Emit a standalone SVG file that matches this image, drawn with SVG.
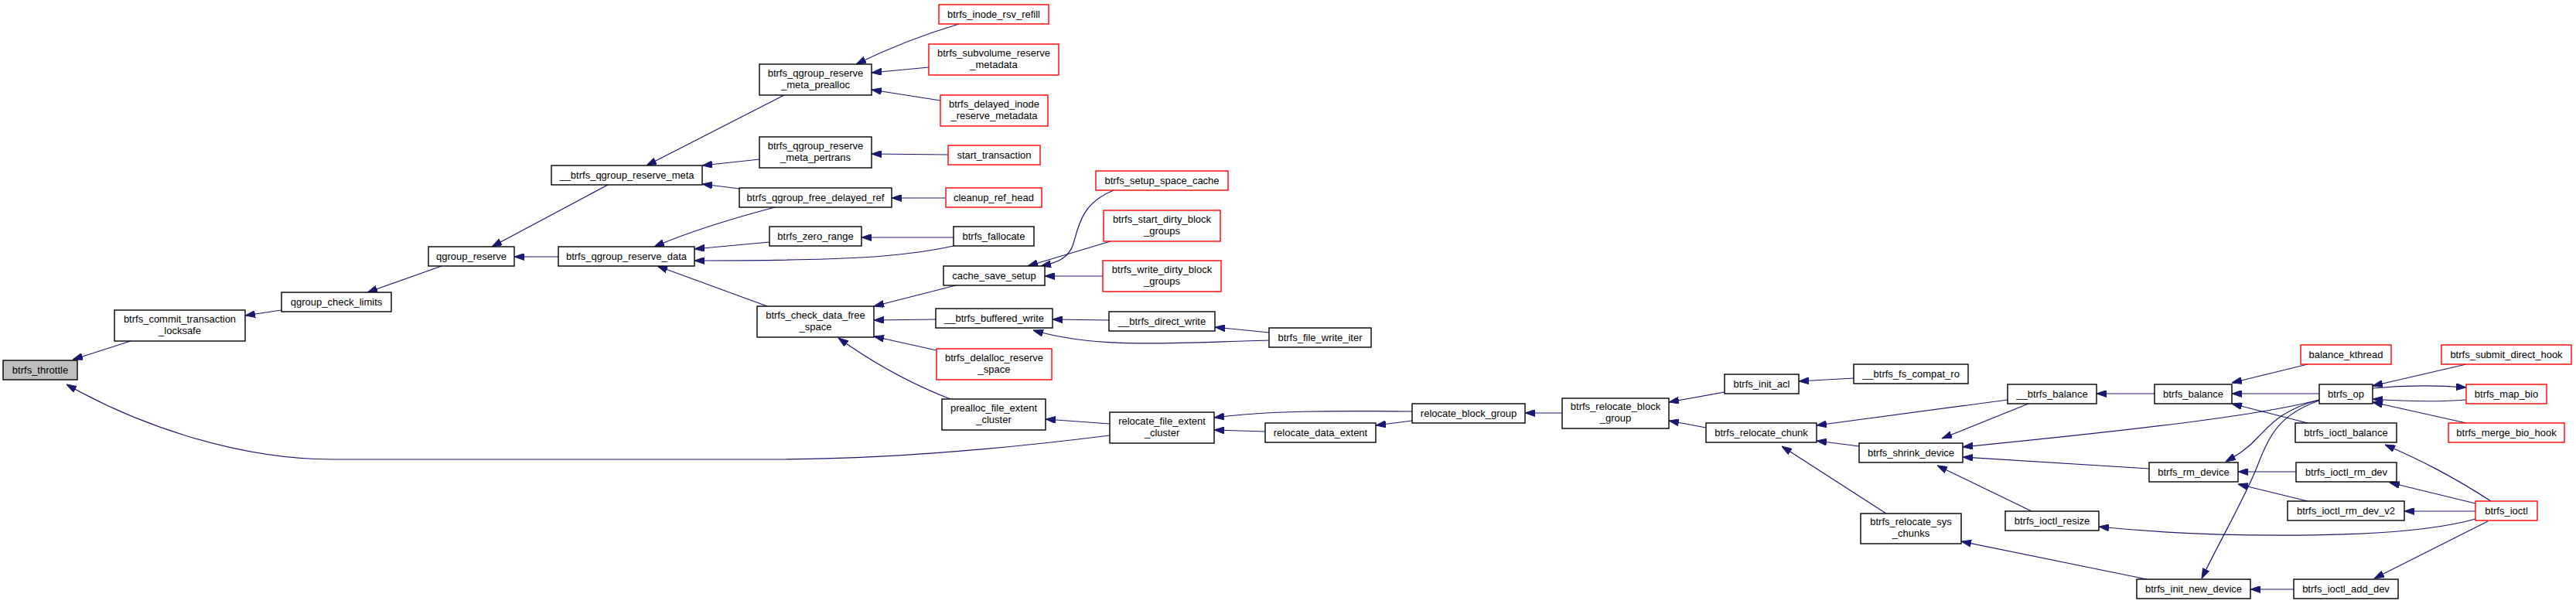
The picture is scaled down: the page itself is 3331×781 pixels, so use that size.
<svg xmlns="http://www.w3.org/2000/svg" width="3331" height="781" viewBox="0 0 3331 781">
<style>
.n rect{fill:#fff;stroke:#000;stroke-width:1.4}
.r rect{stroke:#ff0000}
.g rect{fill:#bfbfbf}
text{font-family:'Liberation Sans',Arial,Helvetica,sans-serif;font-size:13px;text-anchor:middle;fill:#000}
.e path{fill:none;stroke:#191970;stroke-width:1.2;marker-end:url(#a)}
</style>
<defs>
<marker id="a" markerUnits="userSpaceOnUse" viewBox="0 0 13 9" markerWidth="13" markerHeight="9" refX="13" refY="4.5" orient="auto">
<path d="M0,0 L13,4.5 L0,9 z" fill="#191970" stroke="#191970" stroke-width="1"/>
</marker>
</defs>
<rect width="3331" height="781" fill="#fff"/>
<g class="e" id="edges">
<path d="M169,441 L94,465"/>
<path d="M364,401 L317,408"/>
<path d="M571,344 L475,378"/>
<path d="M786,239 L636,319"/>
<path d="M722,332 L665,332"/>
<path d="M1014,123 L836,214"/>
<path d="M982,206 L908,214"/>
<path d="M956,244 L908,238"/>
<path d="M1002,268 C960,279 900,296 846,319"/>
<path d="M995,313 L898,322"/>
<path d="M1233,318 C1170,332 1100,337 898,337"/>
<path d="M995,397 L850,344"/>
<path d="M1240,31 Q1170,52 1107,83"/>
<path d="M1201,87 L1127,94"/>
<path d="M1216,130 L1127,116"/>
<path d="M1226,200 L1127,199"/>
<path d="M1223,256 L1153,256"/>
<path d="M1233,307 L1114,307"/>
<path d="M1440,246 C1400,262 1395,290 1388,315 C1382,335 1365,340 1346,344"/>
<path d="M1436,312 L1329,344"/>
<path d="M1426,357 L1351,357"/>
<path d="M1236,369 L1130,396"/>
<path d="M1210,413 L1130,414"/>
<path d="M1211,453 L1130,435"/>
<path d="M1229,516 C1180,497 1130,470 1084,437"/>
<path d="M1434,414 L1361,413"/>
<path d="M1641,430 L1571,423"/>
<path d="M1641,440 C1520,443 1420,452 1336,427"/>
<path d="M1435,548 L1352,542"/>
<path d="M1435,563 C1300,580 1150,594 1000,594 L430,594 C300,594 170,545 86,497"/>
<path d="M1826,532 C1720,531 1640,531 1570,540"/>
<path d="M1826,544 L1779,550"/>
<path d="M1636,558 L1570,556"/>
<path d="M2020,534 L1972,534"/>
<path d="M2230,507 L2158,520"/>
<path d="M2206,553 L2158,544"/>
<path d="M2397,489 L2326,493"/>
<path d="M2596,517 L2349,550"/>
<path d="M2404,577 L2349,570"/>
<path d="M2439,664 L2304,577"/>
<path d="M2623,522 L2511,567"/>
<path d="M2999,517 C2930,535 2800,552 2538,578"/>
<path d="M2779,606 L2538,591"/>
<path d="M2627,661 L2505,602"/>
<path d="M3201,671 C3100,700 2850,695 2714,681"/>
<path d="M2776,749 L2536,700"/>
<path d="M2786,509 L2711,509"/>
<path d="M2984,471 L2886,495"/>
<path d="M2999,509 L2886,509"/>
<path d="M2984,547 L2886,522"/>
<path d="M3189,471 L3068,499"/>
<path d="M3068,502 C3110,498 3150,498 3189,501"/>
<path d="M3189,517 C3150,520 3110,519 3068,516"/>
<path d="M3189,547 L3068,520"/>
<path d="M2999,517 C2950,530 2935,550 2920,565 C2905,582 2890,590 2878,597"/>
<path d="M2999,518 C2950,535 2935,560 2920,600 C2905,640 2870,700 2847,748"/>
<path d="M2969,610 L2894,610"/>
<path d="M2984,648 L2894,626"/>
<path d="M3221,648 C3170,615 3130,595 3084,575"/>
<path d="M3201,651 L3090,624"/>
<path d="M3201,661 L3109,661"/>
<path d="M3217,674 L3070,748"/>
<path d="M2966,762 L2910,762"/>
</g>
<g id="btrfs_throttle" class="n g"><rect x="4" y="466" width="96" height="25"/><text x="52" y="483">btrfs_throttle</text></g>
<g id="btrfs_commit_transaction_locksafe" class="n"><rect x="148" y="401" width="169" height="40"/><text x="232.5" y="417">btrfs_commit_transaction</text><text x="232.5" y="432">_locksafe</text></g>
<g id="qgroup_check_limits" class="n"><rect x="364" y="378" width="142" height="25"/><text x="435" y="395">qgroup_check_limits</text></g>
<g id="qgroup_reserve" class="n"><rect x="554" y="319" width="111" height="25"/><text x="609.5" y="336">qgroup_reserve</text></g>
<g id="__btrfs_qgroup_reserve_meta" class="n"><rect x="713" y="214" width="195" height="25"/><text x="810.5" y="231">__btrfs_qgroup_reserve_meta</text></g>
<g id="btrfs_qgroup_reserve_data" class="n"><rect x="722" y="319" width="176" height="25"/><text x="810" y="336">btrfs_qgroup_reserve_data</text></g>
<g id="btrfs_qgroup_reserve_meta_prealloc" class="n"><rect x="982" y="83" width="145" height="40"/><text x="1054.5" y="99">btrfs_qgroup_reserve</text><text x="1054.5" y="114">_meta_prealloc</text></g>
<g id="btrfs_qgroup_reserve_meta_pertrans" class="n"><rect x="982" y="177" width="145" height="40"/><text x="1054.5" y="193">btrfs_qgroup_reserve</text><text x="1054.5" y="208">_meta_pertrans</text></g>
<g id="btrfs_qgroup_free_delayed_ref" class="n"><rect x="956" y="243" width="197" height="25"/><text x="1054.5" y="260">btrfs_qgroup_free_delayed_ref</text></g>
<g id="btrfs_zero_range" class="n"><rect x="995" y="293" width="119" height="25"/><text x="1054.5" y="310">btrfs_zero_range</text></g>
<g id="btrfs_check_data_free_space" class="n"><rect x="979" y="396" width="151" height="40"/><text x="1054.5" y="412">btrfs_check_data_free</text><text x="1054.5" y="427">_space</text></g>
<g id="btrfs_inode_rsv_refill" class="n r"><rect x="1214" y="6" width="142" height="25"/><text x="1285" y="23">btrfs_inode_rsv_refill</text></g>
<g id="btrfs_subvolume_reserve_metadata" class="n r"><rect x="1201" y="57" width="168" height="40"/><text x="1285" y="73">btrfs_subvolume_reserve</text><text x="1285" y="88">_metadata</text></g>
<g id="btrfs_delayed_inode_reserve_metadata" class="n r"><rect x="1216" y="123" width="139" height="40"/><text x="1285.5" y="139">btrfs_delayed_inode</text><text x="1285.5" y="154">_reserve_metadata</text></g>
<g id="start_transaction" class="n r"><rect x="1226" y="188" width="119" height="25"/><text x="1285.5" y="205">start_transaction</text></g>
<g id="cleanup_ref_head" class="n r"><rect x="1223" y="243" width="124" height="25"/><text x="1285" y="260">cleanup_ref_head</text></g>
<g id="btrfs_fallocate" class="n"><rect x="1233" y="293" width="104" height="25"/><text x="1285" y="310">btrfs_fallocate</text></g>
<g id="cache_save_setup" class="n"><rect x="1220" y="344" width="131" height="25"/><text x="1285.5" y="361">cache_save_setup</text></g>
<g id="btrfs_setup_space_cache" class="n r"><rect x="1417" y="221" width="171" height="25"/><text x="1502.5" y="238">btrfs_setup_space_cache</text></g>
<g id="btrfs_start_dirty_block_groups" class="n r"><rect x="1427" y="272" width="151" height="40"/><text x="1502.5" y="288">btrfs_start_dirty_block</text><text x="1502.5" y="303">_groups</text></g>
<g id="btrfs_write_dirty_block_groups" class="n r"><rect x="1426" y="337" width="153" height="40"/><text x="1502.5" y="353">btrfs_write_dirty_block</text><text x="1502.5" y="368">_groups</text></g>
<g id="__btrfs_buffered_write" class="n"><rect x="1210" y="399" width="151" height="25"/><text x="1285.5" y="416">__btrfs_buffered_write</text></g>
<g id="btrfs_delalloc_reserve_space" class="n r"><rect x="1211" y="451" width="149" height="40"/><text x="1285.5" y="467">btrfs_delalloc_reserve</text><text x="1285.5" y="482">_space</text></g>
<g id="prealloc_file_extent_cluster" class="n"><rect x="1218" y="516" width="134" height="40"/><text x="1285" y="532">prealloc_file_extent</text><text x="1285" y="547">_cluster</text></g>
<g id="__btrfs_direct_write" class="n"><rect x="1434" y="403" width="137" height="25"/><text x="1502.5" y="420">__btrfs_direct_write</text></g>
<g id="relocate_file_extent_cluster" class="n"><rect x="1435" y="533" width="135" height="40"/><text x="1502.5" y="549">relocate_file_extent</text><text x="1502.5" y="564">_cluster</text></g>
<g id="btrfs_file_write_iter" class="n"><rect x="1641" y="424" width="132" height="25"/><text x="1707" y="441">btrfs_file_write_iter</text></g>
<g id="relocate_data_extent" class="n"><rect x="1636" y="547" width="143" height="25"/><text x="1707.5" y="564">relocate_data_extent</text></g>
<g id="relocate_block_group" class="n"><rect x="1826" y="522" width="146" height="25"/><text x="1899" y="539">relocate_block_group</text></g>
<g id="btrfs_relocate_block_group" class="n"><rect x="2020" y="515" width="138" height="39"/><text x="2089" y="530">btrfs_relocate_block</text><text x="2089" y="545">_group</text></g>
<g id="btrfs_init_acl" class="n"><rect x="2230" y="484" width="96" height="25"/><text x="2278" y="501">btrfs_init_acl</text></g>
<g id="__btrfs_fs_compat_ro" class="n"><rect x="2397" y="471" width="148" height="25"/><text x="2471" y="488">__btrfs_fs_compat_ro</text></g>
<g id="btrfs_relocate_chunk" class="n"><rect x="2206" y="547" width="143" height="25"/><text x="2277.5" y="564">btrfs_relocate_chunk</text></g>
<g id="__btrfs_balance" class="n"><rect x="2596" y="497" width="115" height="25"/><text x="2653.5" y="514">__btrfs_balance</text></g>
<g id="btrfs_shrink_device" class="n"><rect x="2404" y="573" width="134" height="25"/><text x="2471" y="590">btrfs_shrink_device</text></g>
<g id="btrfs_ioctl_resize" class="n"><rect x="2593" y="661" width="121" height="25"/><text x="2653.5" y="678">btrfs_ioctl_resize</text></g>
<g id="btrfs_relocate_sys_chunks" class="n"><rect x="2406" y="664" width="130" height="39"/><text x="2471" y="679">btrfs_relocate_sys</text><text x="2471" y="694">_chunks</text></g>
<g id="btrfs_balance" class="n"><rect x="2786" y="497" width="100" height="25"/><text x="2836" y="514">btrfs_balance</text></g>
<g id="balance_kthread" class="n r"><rect x="2975" y="446" width="117" height="25"/><text x="3033.5" y="463">balance_kthread</text></g>
<g id="btrfs_op" class="n"><rect x="2999" y="497" width="69" height="25"/><text x="3033.5" y="514">btrfs_op</text></g>
<g id="btrfs_submit_direct_hook" class="n r"><rect x="3157" y="446" width="168" height="25"/><text x="3241" y="463">btrfs_submit_direct_hook</text></g>
<g id="btrfs_map_bio" class="n r"><rect x="3189" y="497" width="104" height="25"/><text x="3241" y="514">btrfs_map_bio</text></g>
<g id="btrfs_merge_bio_hook" class="n r"><rect x="3166" y="547" width="150" height="25"/><text x="3241" y="564">btrfs_merge_bio_hook</text></g>
<g id="btrfs_ioctl_balance" class="n"><rect x="2968" y="547" width="131" height="25"/><text x="3033.5" y="564">btrfs_ioctl_balance</text></g>
<g id="btrfs_rm_device" class="n"><rect x="2779" y="598" width="115" height="25"/><text x="2836.5" y="615">btrfs_rm_device</text></g>
<g id="btrfs_ioctl_rm_dev" class="n"><rect x="2969" y="598" width="130" height="25"/><text x="3034" y="615">btrfs_ioctl_rm_dev</text></g>
<g id="btrfs_ioctl_rm_dev_v2" class="n"><rect x="2958" y="648" width="151" height="25"/><text x="3033.5" y="665">btrfs_ioctl_rm_dev_v2</text></g>
<g id="btrfs_ioctl" class="n r"><rect x="3201" y="648" width="80" height="25"/><text x="3241" y="665">btrfs_ioctl</text></g>
<g id="btrfs_init_new_device" class="n"><rect x="2763" y="749" width="147" height="25"/><text x="2836.5" y="766">btrfs_init_new_device</text></g>
<g id="btrfs_ioctl_add_dev" class="n"><rect x="2966" y="749" width="135" height="25"/><text x="3033.5" y="766">btrfs_ioctl_add_dev</text></g>
</svg>
